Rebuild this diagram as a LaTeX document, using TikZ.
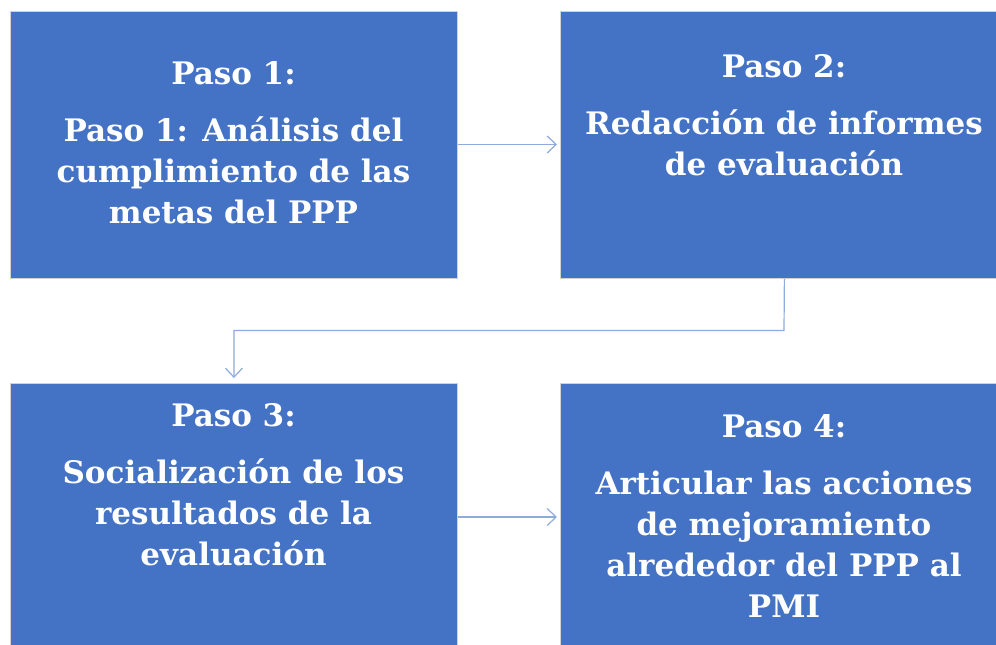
\documentclass[tikz,border=0pt]{standalone}
\usepackage{fontspec}
\setmainfont{DejaVu Serif}
\usetikzlibrary{arrows.meta}
\definecolor{boxblue}{HTML}{4472C4}
\definecolor{arrowblue}{HTML}{8FAADC}
\tikzset{
  stepbox/.style={draw=gray!35, line width=0.8pt, fill=boxblue, inner sep=0pt},
  steptext/.style={text=white, font=\bfseries\fontsize{31}{41}\selectfont, align=center, anchor=base, inner sep=0pt},
  flow/.style={draw=arrowblue, line width=1.2pt, -{Straight Barb[length=9pt, width=17pt, line width=1.2pt]}}
}
\begin{document}
\begin{tikzpicture}[x=1pt, y=-1pt]
\useasboundingbox (0,0) rectangle (996,645);
\clip (0,0) rectangle (996,645);
\fill[white] (0,0) rectangle (996,645);
% boxes
\node[stepbox, minimum width=447pt, minimum height=267pt, anchor=north west] (b1) at (10,11) {};
\node[stepbox, minimum width=448pt, minimum height=267pt, anchor=north west] (b2) at (560,11) {};
\node[stepbox, minimum width=447pt, minimum height=267pt, anchor=north west] (b3) at (10,383) {};
\node[stepbox, minimum width=448pt, minimum height=267pt, anchor=north west] (b4) at (560,383) {};
% texts (anchored at the baseline of the last line)
\node[steptext] (t1) at (233.5,223) {Paso 1:\\[16pt]Paso 1: Análisis del\\cumplimiento de las\\metas del PPP};
\node[steptext] (t2) at (784,175) {Paso 2:\\[16pt]Redacción de informes\\de evaluación};
\node[steptext] (t3) at (233.5,565) {Paso 3:\\[16pt]Socialización de los\\resultados de la\\evaluación};
\node[steptext] (t4) at (784,617) {Paso 4:\\[16pt]Articular las acciones\\de mejoramiento\\alrededor del PPP al\\PMI};
% connectors
\coordinate (m1) at (784,330.5);
\draw[flow, shorten >=3pt] (b1.east |- 0,144.5) -- (b2.west |- 0,144.5);
\draw[flow, shorten >=5pt] (b2.south) -- (m1) -| (b3.north);
\draw[flow, shorten >=3pt] (b3.east |- 0,517) -- (b4.west |- 0,517);
\end{tikzpicture}
\end{document}
